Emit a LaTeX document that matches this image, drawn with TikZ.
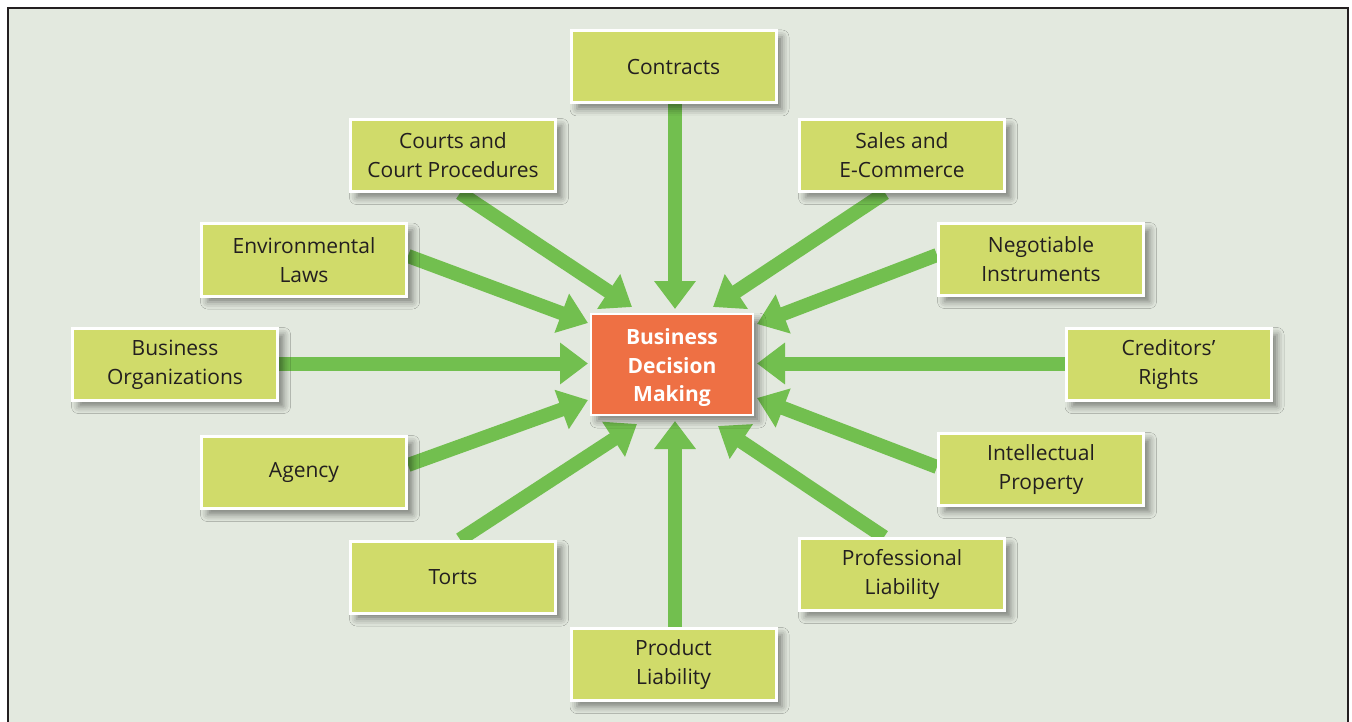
\documentclass[tikz,border=0pt]{standalone}
\usepackage{fontspec}
\setmainfont{Open Sans}
\usetikzlibrary{arrows.meta,calc,shadows.blur}
\definecolor{bg}{HTML}{E3E9DF}
\definecolor{boxfill}{HTML}{D0DB6A}
\definecolor{arrgreen}{HTML}{72BF4F}
\definecolor{centerfill}{HTML}{EE7044}
\definecolor{framecol}{HTML}{231F20}
\definecolor{txt}{HTML}{231F20}
\begin{document}
\begin{tikzpicture}[x=1pt,y=-1pt,
  boxshape/.style={minimum width=205pt, minimum height=72pt, inner sep=0pt, outer sep=1.5pt},
  hubshape/.style={minimum width=162pt, minimum height=101pt, inner sep=0pt, outer sep=1pt},
  topic/.style={boxshape, draw=white, line width=3pt, fill=boxfill, align=center, text=txt,
    font=\fontsize{21}{29}\selectfont,
    blur shadow={shadow xshift=6pt, shadow yshift=-6pt, shadow blur radius=7pt, shadow opacity=45}},
  hub/.style={hubshape, draw=white, line width=2pt, fill=centerfill,
    blur shadow={shadow xshift=6pt, shadow yshift=-6pt, shadow blur radius=7pt, shadow opacity=45}},
  hubtext/.style={align=center, text=white, inner sep=0pt, font=\fontsize{21}{28.5}\selectfont\bfseries},
  arr/.style={draw=arrgreen, line width=14pt, -{Triangle[width=40pt,length=28pt]}}
]
\useasboundingbox (0,0) rectangle (1352,722);
\fill[white] (0,0) rectangle (1352,722);
\fill[bg] (8,8) rectangle (1348,722);
\draw[framecol, line width=2.5pt] (8,722) -- (8,8) -- (1348,8) -- (1348,722);

% invisible placement of the nodes (so arrows can be drawn underneath)
\node[hubshape] (center) at (672,364.5) {};
\node[boxshape] (contracts) at (673.5,67) {};
\node[boxshape] (courts) at (453,155.5) {};
\node[boxshape] (sales) at (902,155.5) {};
\node[boxshape] (env) at (304,260) {};
\node[boxshape] (neg) at (1041,259.5) {};
\node[boxshape] (org) at (175,364.5) {};
\node[boxshape] (cred) at (1168.5,364.5) {};
\node[boxshape] (agency) at (304,472.5) {};
\node[boxshape] (intel) at (1041,469.5) {};
\node[boxshape] (torts) at (453,577) {};
\node[boxshape] (prof) at (902,574.5) {};
\node[boxshape] (prod) at (673.5,664.5) {};

\draw[arr] ($(contracts.south)+(1.5,0)$) -- ($(center.north)+(3,-4)$);
\draw[arr] ($(courts.south)+(7,0)$) -- ($(center.north west)+(42,-6)$);
\draw[arr] ($(sales.south)+(-17,0)$) -- ($(center.north east)+(-41,-6)$);
\draw[arr] ($(env.east)+(0,-4)$) -- ($(center.north west)+(-2,10)$);
\draw[arr] ($(neg.west)+(0,-4.5)$) -- ($(center.north east)+(3,11)$);
\draw[arr] ($(org.east)+(0,-1)$) -- ($(center.west)+(-2,-1)$);
\draw[arr] ($(cred.west)+(0,-1)$) -- ($(center.east)+(3,-1)$);
\draw[arr] ($(agency.east)+(0,-7.5)$) -- ($(center.south west)+(-2,-16)$);
\draw[arr] ($(intel.west)+(0,-2.5)$) -- ($(center.south east)+(3,-18)$);
\draw[arr] ($(torts.north)+(7,0)$) -- ($(center.south west)+(47,8)$);
\draw[arr] ($(prof.north)+(-18,0)$) -- ($(center.south east)+(-36,10)$);
\draw[arr] ($(prod.north)+(1.5,0)$) -- ($(center.south)+(3,5)$);

% visible nodes
\node[hub] (center) at (672,364.5) {};
\node[hubtext] (centertext) at (672,368) {Business\\Decision\\Making};
\node[topic] (contracts) at (673.5,67) {Contracts};
\node[topic] (courts) at (453,155.5) {Courts and\\Court Procedures};
\node[topic] (sales) at (902,155.5) {Sales and\\E-Commerce};
\node[topic] (env) at (304,260) {Environmental\\Laws};
\node[topic] (neg) at (1041,259.5) {Negotiable\\Instruments};
\node[topic] (org) at (175,364.5) {Business\\Organizations};
\node[topic] (cred) at (1168.5,364.5) {Creditors’\\Rights};
\node[topic] (agency) at (304,472.5) {Agency};
\node[topic] (intel) at (1041,469.5) {Intellectual\\Property};
\node[topic] (torts) at (453,577) {Torts};
\node[topic] (prof) at (902,574.5) {Professional\\Liability};
\node[topic] (prod) at (673.5,664.5) {Product\\Liability};
\end{tikzpicture}
\end{document}
